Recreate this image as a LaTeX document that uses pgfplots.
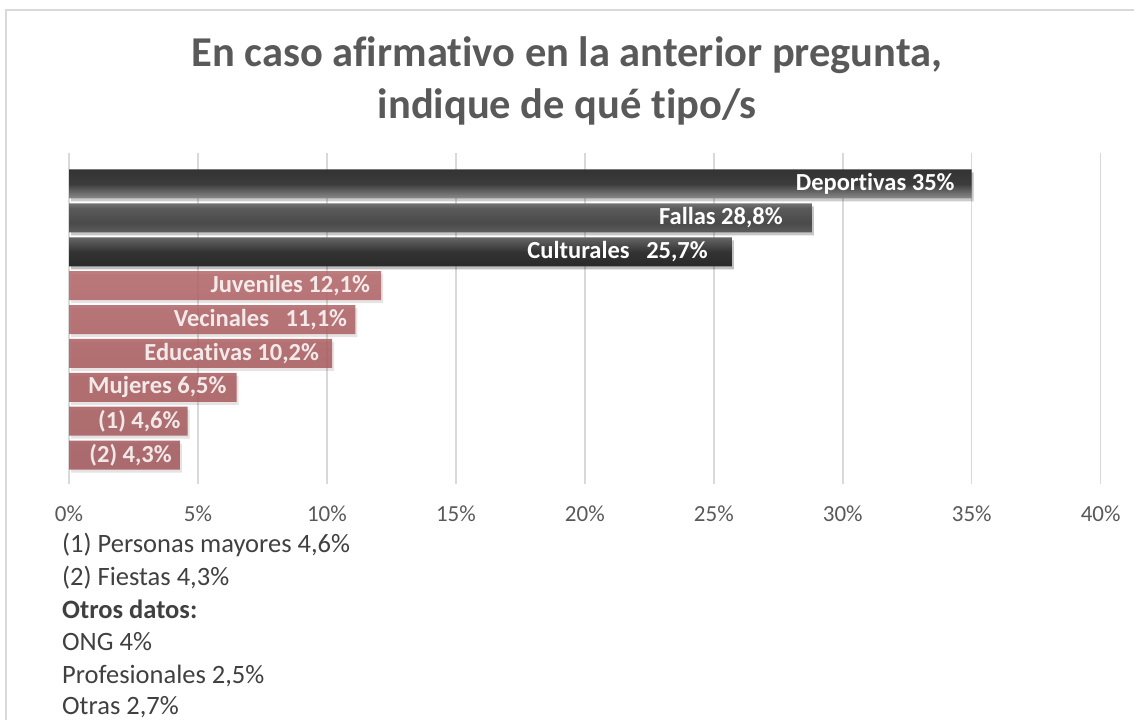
\documentclass[border=0pt]{standalone}
\usepackage{fontspec}
\setmainfont{Carlito}[Ligatures={NoCommon}]
\usepackage{pgfplots}
\pgfplotsset{compat=1.18}
\definecolor{titlegray}{HTML}{595959}
\definecolor{tickgray}{HTML}{595959}
\definecolor{footgray}{HTML}{404040}
\definecolor{gridgray}{HTML}{D9D9D9}
\definecolor{framegray}{HTML}{D9D9D9}
\definecolor{d0}{HTML}{2A2A2A}
\definecolor{d1}{HTML}{333333}
\definecolor{d2}{HTML}{666666}
\definecolor{d3}{HTML}{4A4A4A}
\definecolor{d4}{HTML}{5A5A5A}
\definecolor{d5}{HTML}{8C8C8C}
\definecolor{d6}{HTML}{3C3C3C}
\definecolor{d7}{HTML}{333333}
\definecolor{p0}{HTML}{A0555A}
\definecolor{p1}{HTML}{A85B5E}
\definecolor{p2}{HTML}{B26669}
\pgfdeclareverticalshading{darkbar}{100bp}{color(0bp)=(d0); color(25bp)=(d0); color(32.5bp)=(d1); color(40bp)=(d2); color(47.5bp)=(d3); color(55bp)=(d4); color(60bp)=(d5); color(67.5bp)=(d6); color(75bp)=(d7); color(100bp)=(d7)}
\pgfdeclareverticalshading{pinkbar}{100bp}{color(0bp)=(p0); color(25bp)=(p0); color(50bp)=(p1); color(75bp)=(p2); color(100bp)=(p2)}
\begin{document}
\begin{tikzpicture}
\useasboundingbox (0,0) rectangle (1134pt,720pt);
\draw[framegray, line width=1.5pt] (6pt,0) -- (6pt,710pt) -- (1134pt,710pt);
\node[font=\fontsize{42.5}{50}\selectfont\bfseries, text=titlegray] at (567pt,665pt) {En caso afirmativo en la anterior pregunta,};
\node[font=\fontsize{42.5}{50}\selectfont\bfseries, text=titlegray] at (567pt,613pt) {indique de qué tipo/s};
\begin{axis}[
  at={(69pt,236pt)}, anchor=south west, scale only axis,
  width=1031.7pt, height=331pt,
  xmin=0, xmax=40, ymin=-0.855, ymax=8.915,
  xtick={0,5,...,40},
  xticklabels={0\%,5\%,10\%,15\%,20\%,25\%,30\%,35\%,40\%},
  ytick=\empty,
  axis line style={draw=none},
  major tick length=0pt,
  xmajorgrids, grid style={gridgray, line width=1.5pt},
  xticklabel style={font=\fontsize{23}{27}\selectfont, text=tickgray, yshift=-18pt},
  xbar, bar width=29pt, bar shift=0pt,
  point meta=explicit symbolic,
  nodes near coords,
  every node near coord/.append style={anchor=east, xshift=0pt, text=white, font=\fontsize{24.5}{29}\selectfont\bfseries, inner sep=0pt},
]
\addplot[draw=none, shading=darkbar,
  preaction={fill=black, fill opacity=0.15, transform canvas={xshift=2pt, yshift=-3pt}}]
  coordinates {
  (35,8) [Deportivas 35\%\hspace*{17pt}]
  (28.8,7) [Fallas 28,8\%\hspace*{29pt}]
  (25.7,6) [Culturales\ \ \ 25,7\%\hspace*{24pt}]
};
\addplot[draw=none, shading=pinkbar, fill opacity=0.85,
  preaction={fill=black, fill opacity=0.07, transform canvas={xshift=2pt, yshift=-3pt}}]
  coordinates {
  (12.1,5) [Juveniles 12,1\%\hspace*{11pt}]
  (11.1,4) [Vecinales\ \ \ 11,1\%\hspace*{8pt}]
  (10.2,3) [Educativas 10,2\%\hspace*{13pt}]
  (6.5,2) [Mujeres 6,5\%\hspace*{10pt}]
  (4.6,1) [(1) 4,6\%\hspace*{7pt}]
  (4.3,0) [(2) 4,3\%\hspace*{8pt}]
};
\end{axis}
\begin{scope}[every node/.style={anchor=base west, font=\fontsize{26.5}{31}\selectfont, text=footgray, inner sep=0pt}]
\node at (62pt,167pt) {(1) Personas mayores 4,6\%};
\node at (62pt,134.5pt) {(2) Fiestas 4,3\%};
\node[font=\fontsize{26.5}{31}\selectfont\bfseries] at (62pt,102pt) {Otros datos:};
\node at (62pt,69.5pt) {ONG 4\%};
\node at (62pt,37pt) {Profesionales 2,5\%};
\node at (62pt,6pt) {Otras 2,7\%};
\end{scope}
\end{tikzpicture}
\end{document}
